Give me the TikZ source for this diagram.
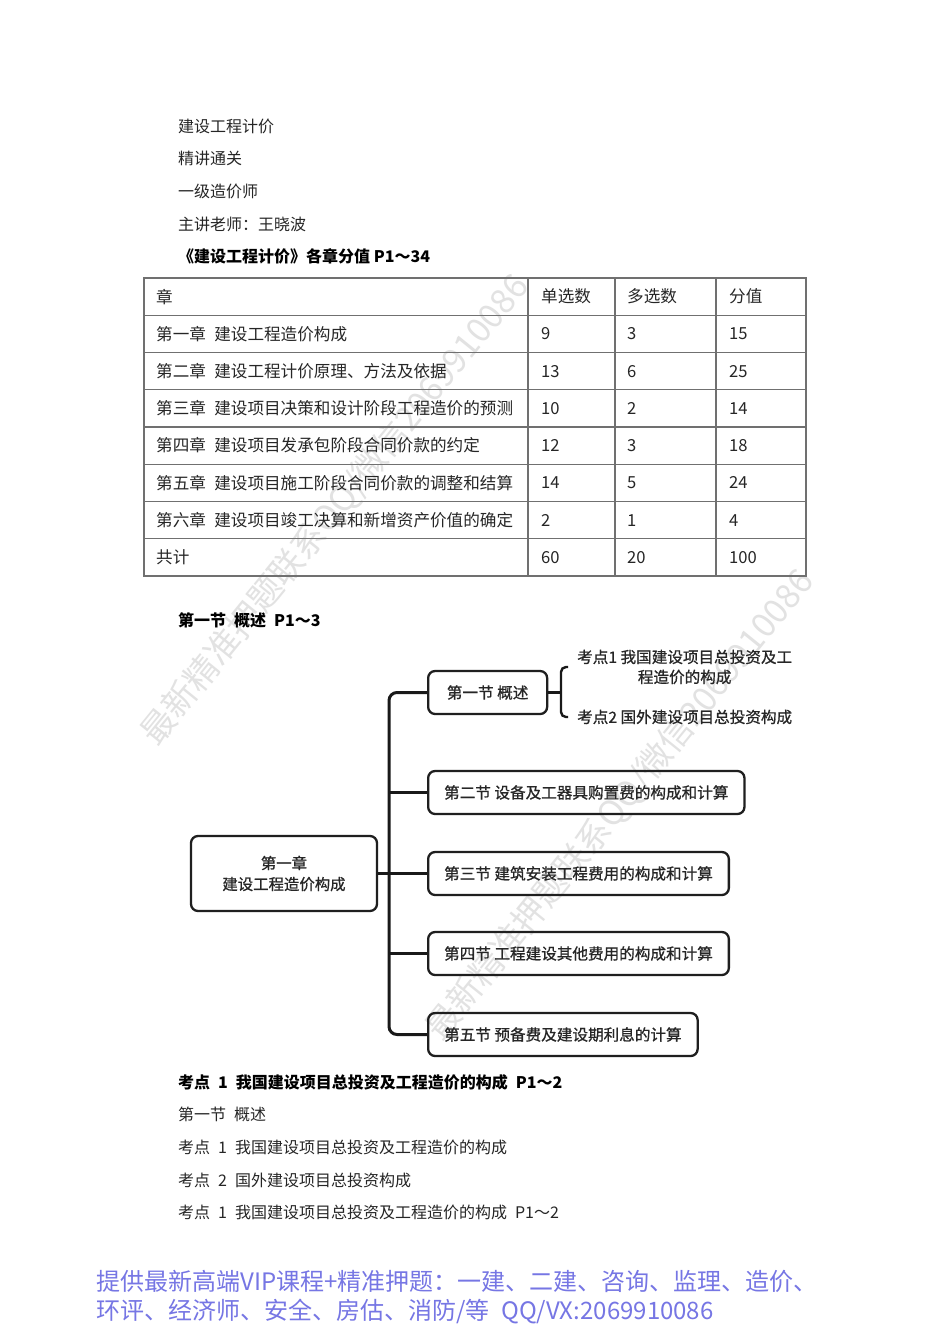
\documentclass[tikz,border=0pt]{standalone}
\usepackage{fontspec}
\setmainfont{Noto Sans CJK SC}
\newfontfamily\mapfont{Noto Sans CJK SC}[FakeBold=0.8]
\definecolor{footBlue}{RGB}{118,118,228}
\definecolor{ruleGray}{RGB}{112,112,112}
\definecolor{markGray}{RGB}{226,226,226}
\tikzset{
  line/.style={anchor=west, inner sep=0pt, text=black!85, font=\fontsize{16}{18}\selectfont},
  headline/.style={line, text=black, font=\fontsize{16}{18}\selectfont\bfseries},
  cell/.style={anchor=west, inner sep=0pt, text=black!85, font=\fontsize{16.6}{18}\selectfont},
  rule/.style={ruleGray, line width=1.3pt},
  secbox/.style={draw=black!88, line width=2.3pt, rounded corners=7pt, anchor=west,
    minimum height=43pt, inner xsep=16pt, text=black!85, font=\mapfont\fontsize{15.6}{18}\selectfont},
  rootbox/.style={secbox, anchor=center, minimum width=186pt, minimum height=75pt,
    align=center, font=\mapfont\fontsize{15.4}{21}\selectfont},
  leaf/.style={anchor=west, inner sep=0pt, align=center, text=black!85, font=\mapfont\fontsize{15.6}{20}\selectfont},
  link/.style={black!90, line width=3pt, rounded corners=8pt},
  hook/.style={black!90, line width=2.4pt, rounded corners=5pt},
  foot/.style={anchor=west, inner sep=0pt, text=footBlue, font=\fontsize{24}{26}\selectfont},
  wmark/.style={rotate=51, text=markGray, font=\fontsize{34}{36}\selectfont},
}
\begin{document}
\begin{tikzpicture}[x=1pt,y=-1pt]
\useasboundingbox[fill=white] (0,0) rectangle (950,1344);

% watermarks
\node[wmark] (wm1) at (335,510) {最新精准押题联系QQ/微信2069910086};
\node[wmark] (wm2) at (620,805) {最新精准押题联系QQ/微信2069910086};

% title lines
\node[line] (t1) at (178,126) {建设工程计价};
\node[line] (t2) at (178,158) {精讲通关};
\node[line] (t3) at (178,191) {一级造价师};
\node[line] (t4) at (178,224) {主讲老师：王晓波};
\node[headline] (t5) at (178,256) {《建设工程计价》各章分值 P1～34};

% table
\draw[rule] (144,278) rectangle (806,576);
\foreach \i in {1,...,7}
  \draw[rule] (144,{278+37.25*\i}) -- (806,{278+37.25*\i});
\foreach \x in {528,615,716}
  \draw[rule] (\x,278) -- (\x,576);
\foreach \ch/\sa/\ma/\pt [count=\i] in {
    章/单选数/多选数/分值,
    第一章\enspace 建设工程造价构成/9/3/15,
    第二章\enspace 建设工程计价原理、方法及依据/13/6/25,
    第三章\enspace 建设项目决策和设计阶段工程造价的预测/10/2/14,
    第四章\enspace 建设项目发承包阶段合同价款的约定/12/3/18,
    第五章\enspace 建设项目施工阶段合同价款的调整和结算/14/5/24,
    第六章\enspace 建设项目竣工决算和新增资产价值的确定/2/1/4,
    共计/60/20/100}{
  \pgfmathsetmacro\yy{278+37.25*(\i-0.5)}
  \node[cell] (ch\i) at (156,\yy) {\ch};
  \node[cell] (sa\i) at (541,\yy) {\sa};
  \node[cell] (ma\i) at (627,\yy) {\ma};
  \node[cell] (pt\i) at (729,\yy) {\pt};
}

\node[headline] (t6) at (178,620) {第一节\enspace 概述\enspace P1～3};

% mind map
\node[rootbox] (root) at (284,873.5) {第一章\\建设工程造价构成};
\node[secbox, minimum width=119pt] (s1) at (427,692.5) {第一节 概述};
\node[secbox] (s2) at (427,792.5) {第二节 设备及工器具购置费的构成和计算};
\node[secbox] (s3) at (427,873.5) {第三节 建筑安装工程费用的构成和计算};
\node[secbox] (s4) at (427,953.5) {第四节 工程建设其他费用的构成和计算};
\node[secbox] (s5) at (427,1034.5) {第五节 预备费及建设期利息的计算};
\coordinate (tk) at (389,0);
\draw[link] (s1.west) -| (tk |- s5.west) -- (s5.west);
\draw[link] (root.east) -- (s3.west);
\draw[link] (tk |- s2.west) -- (s2.west);
\draw[link] (tk |- s4.west) -- (s4.west);

\node[leaf] (kp1) at (577,667) {考点1 我国建设项目总投资及工\\程造价的构成};
\node[leaf] (kp2) at (577,717) {考点2 国外建设项目总投资构成};
\coordinate (br) at (561,692.5);
\draw[hook] (s1.east) -- (br);
\draw[hook] ([xshift=-9pt]kp1.west) -| (br) |- ([xshift=-9pt]kp2.west);

% text below
\node[headline] (t7) at (178,1082) {考点\enspace 1\enspace 我国建设项目总投资及工程造价的构成\enspace P1～2};
\node[line] (t8) at (178,1114) {第一节\enspace 概述};
\node[line] (t9) at (178,1147) {考点\enspace 1\enspace 我国建设项目总投资及工程造价的构成};
\node[line] (t10) at (178,1180) {考点\enspace 2\enspace 国外建设项目总投资构成};
\node[line] (t11) at (178,1212) {考点\enspace 1\enspace 我国建设项目总投资及工程造价的构成\enspace P1～2};

% footer
\node[foot] (f1) at (96,1281) {提供最新高端VIP课程+精准押题：一建、二建、咨询、监理、造价、};
\node[foot] (f2) at (96,1311) {环评、经济师、安全、房估、消防/等\enspace QQ/VX:2069910086};
\end{tikzpicture}
\end{document}
